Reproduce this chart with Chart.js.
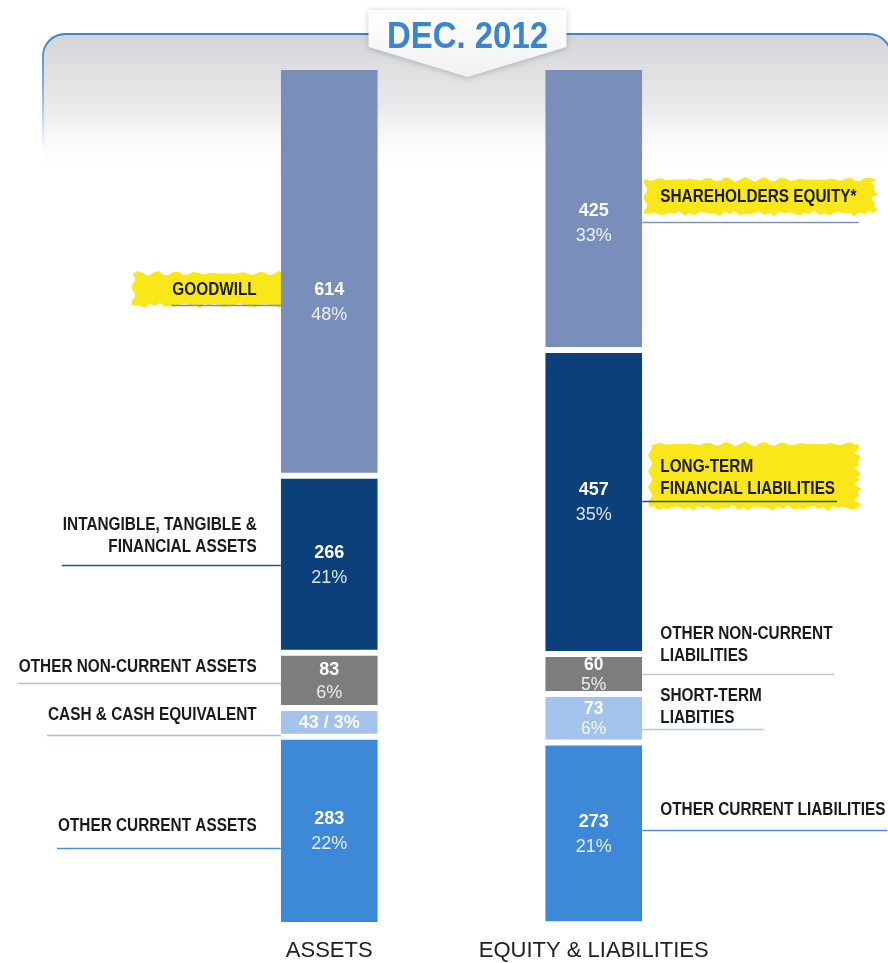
<!DOCTYPE html>
<html>
<head>
<meta charset="utf-8">
<title>Balance sheet - Dec. 2012</title>
<script src="https://cdn.jsdelivr.net/npm/chart.js@4.4.1/dist/chart.umd.min.js"></script>
<style>
    html, body { margin: 0; padding: 0; background: #fff; }
    #wrap { width: 888px; height: 963px; }
</style>
</head>
<body>
<div id="wrap"><canvas id="chart" width="888" height="963"></canvas></div>
<script>
(function () {
    "use strict";

    // data, top segment first
    const categories = ['ASSETS', 'EQUITY & LIABILITIES'];
    const period = 'DEC. 2012';

    const assetNames = ['GOODWILL', 'INTANGIBLE, TANGIBLE &\nFINANCIAL ASSETS', 'OTHER NON-CURRENT ASSETS', 'CASH & CASH EQUIVALENT', 'OTHER CURRENT ASSETS'];
    const assetValues = [614, 266, 83, 43, 283];
    const assetShares = [48, 21, 6, 3, 22];

    const liabilityNames = ['SHAREHOLDERS EQUITY*', 'LONG-TERM\nFINANCIAL LIABILITIES', 'OTHER NON-CURRENT\nLIABILITIES', 'SHORT-TERM\nLIABITIES', 'OTHER CURRENT LIABILITIES'];
    const liabilityValues = [425, 457, 60, 73, 273];
    const liabilityShares = [33, 35, 5, 6, 21];

    const segmentColors = ['#7a8ebb', '#0c407b', '#7d7d7d', '#a3c3ec', '#3d89d7'];
    const leftLineColors = ['#7a8ebb', '#23558f', '#bdbdbd', '#9fc1ea', '#4a8fd8'];
    const rightLineColors = ['#7f92bd', '#1d4f8a', '#c6c6c6', '#a9c8ec', '#4a8fd8'];

    const sans = "'Liberation Sans', Arial, sans-serif";

    // label placement relative to the segment centre (px)
    const leftLayout = [
        { line: 34, text: -15, glow: { l: 39, t: 17, b: 15 } },
        { line: 1, text: -18 },
        { line: 3, text: -16 },
        { line: 13, text: -20 },
        { line: 17, text: -22 }
    ];
    const rightLayout = [
        { line: 14, text: -26, glow: { l: 3, r: 18, t: 17, b: 17 } },
        { line: -1, text: -12, glow: { l: 8, r: 23, t: 23, b: 19 } },
        { line: 0, text: -18 },
        { line: 11, text: -11 },
        { line: -3, text: -21 }
    ];
    const valueShift = [[30, 0, 0, 0, 0], [14, 0, 0, 0, 0]];

    // no narrow face installed, so squeeze the bold one
    const LABEL_FONT = 'bold 18.5px ' + sans;
    const SQUEEZE = 0.83;
    const LINE_GAP = 22;

    function segment(chart, level, side) {
        const bar = chart.getDatasetMeta(level).data[side];
        const p = bar.getProps(['x', 'y', 'base', 'width'], true);
        const top = Math.min(p.y, p.base), bottom = Math.max(p.y, p.base);
        return { left: p.x - p.width / 2, right: p.x + p.width / 2, x: p.x, top: top, bottom: bottom, mid: (top + bottom) / 2 };
    }

    function brush(ctx, x0, y0, x1, y1) {
        ctx.beginPath();
        ctx.moveTo(x0, y0);
        for (let x = x0; x <= x1; x += 5) {
            ctx.lineTo(x, y0 + Math.sin(x * 0.9) * 1.4 + Math.sin(x * 0.31) * 1.2);
        }
        for (let y = y0; y <= y1; y += 3) {
            ctx.lineTo(x1 + Math.sin(y * 1.3) * 2.5 + Math.sin(y * 0.4) * 2, y);
        }
        for (let x = x1; x >= x0; x -= 5) {
            ctx.lineTo(x, y1 + Math.sin(x * 0.7) * 1.8 + Math.sin(x * 0.23) * 1.2);
        }
        for (let y = y1; y >= y0; y -= 3) {
            ctx.lineTo(x0 + Math.sin(y * 1.7) * 2, y);
        }
        ctx.closePath();
        ctx.fill();
    }

    function labelLines(text) {
        return text.split('\n');
    }

    function blockWidth(ctx, lines) {
        ctx.font = LABEL_FONT;
        return SQUEEZE * Math.max.apply(null, lines.map(function (l) { return ctx.measureText(l).width; }));
    }

    function squeezedText(ctx, text, x, y, align) {
        ctx.save();
        ctx.translate(x, y);
        ctx.scale(SQUEEZE, 1);
        ctx.textAlign = align;
        ctx.fillText(text, 0, 0);
        ctx.restore();
    }

    const backdrop = {
        id: 'backdrop',
        beforeDraw(chart) {
            const ctx = chart.ctx;
            const w = chart.width;
            ctx.save();
            ctx.fillStyle = '#fff';
            ctx.fillRect(0, 0, w, chart.height);

            // rounded panel fading to white
            const x0 = 43, y0 = 34, r = 22, x1 = 891, fade = 180;
            const fill = ctx.createLinearGradient(0, y0, 0, fade);
            fill.addColorStop(0, '#d4d5d8');
            fill.addColorStop(0.5, '#eaeaec');
            fill.addColorStop(1, 'rgba(255,255,255,0)');
            ctx.fillStyle = fill;
            ctx.beginPath();
            ctx.moveTo(x0, fade);
            ctx.lineTo(x0, y0 + r);
            ctx.arcTo(x0, y0, x0 + r, y0, r);
            ctx.lineTo(x1 - r, y0);
            ctx.arcTo(x1, y0, x1, y0 + r, r);
            ctx.lineTo(x1, fade);
            ctx.closePath();
            ctx.fill();

            const edge = ctx.createLinearGradient(0, y0, 0, 150);
            edge.addColorStop(0, 'rgba(60,132,210,1)');
            edge.addColorStop(0.45, 'rgba(60,132,210,0.6)');
            edge.addColorStop(1, 'rgba(60,132,210,0)');
            ctx.strokeStyle = edge;
            ctx.lineWidth = 2;
            ctx.beginPath();
            ctx.moveTo(x0, 150);
            ctx.lineTo(x0, y0 + r);
            ctx.arcTo(x0, y0, x0 + r, y0, r);
            ctx.lineTo(x1 - r, y0);
            ctx.arcTo(x1, y0, x1, y0 + r, r);
            ctx.lineTo(x1, 150);
            ctx.stroke();

            // date tab
            const cx = (chart.scales.x.getPixelForValue(0) + chart.scales.x.getPixelForValue(1)) / 2 + 6;
            ctx.save();
            ctx.shadowColor = 'rgba(0,0,0,0.22)';
            ctx.shadowBlur = 6;
            ctx.shadowOffsetY = 1;
            const tab = ctx.createLinearGradient(0, 10, 0, 77);
            tab.addColorStop(0, '#ffffff');
            tab.addColorStop(1, '#f1f1f3');
            ctx.fillStyle = tab;
            ctx.beginPath();
            ctx.moveTo(cx - 99, 10);
            ctx.lineTo(cx + 99, 10);
            ctx.lineTo(cx + 99, 47);
            ctx.lineTo(cx, 77);
            ctx.lineTo(cx - 99, 47);
            ctx.closePath();
            ctx.fill();
            ctx.restore();

            ctx.font = 'bold 36px ' + sans;
            const tw = ctx.measureText(period).width;
            ctx.fillStyle = '#3a85d0';
            ctx.textAlign = 'center';
            ctx.textBaseline = 'alphabetic';
            ctx.save();
            ctx.translate(cx, 48);
            ctx.scale(161 / tw, 1);
            ctx.fillText(period, 0, 0);
            ctx.restore();
            ctx.restore();
        },
        beforeDatasetsDraw(chart) {
            const ctx = chart.ctx;
            ctx.save();
            ctx.fillStyle = '#f9e71a';
            ctx.lineWidth = 1.5;

            // left side: assets
            assetNames.forEach(function (name, i) {
                const s = segment(chart, i, 0);
                const lay = leftLayout[i];
                const lines = labelLines(name);
                const bw = blockWidth(ctx, lines);
                const textRight = s.left - 24;
                const lastMid = s.mid + lay.line + lay.text;
                const firstMid = lastMid - (lines.length - 1) * LINE_GAP;
                if (lay.glow) {
                    brush(ctx, textRight - bw - lay.glow.l, firstMid - lay.glow.t, s.left + 4, lastMid + lay.glow.b);
                }
                const ly = Math.round(s.mid + lay.line) + 0.5;
                ctx.strokeStyle = leftLineColors[i];
                ctx.beginPath();
                ctx.moveTo(textRight - bw - 1, ly);
                ctx.lineTo(s.left, ly);
                ctx.stroke();
            });

            // right side: equity & liabilities
            liabilityNames.forEach(function (name, i) {
                const s = segment(chart, i, 1);
                const lay = rightLayout[i];
                const lines = labelLines(name);
                const bw = blockWidth(ctx, lines);
                const textLeft = s.right + 18;
                const lastMid = s.mid + lay.line + lay.text;
                const firstMid = lastMid - (lines.length - 1) * LINE_GAP;
                if (lay.glow) {
                    brush(ctx, s.right + lay.glow.l, firstMid - lay.glow.t, textLeft + bw + lay.glow.r, lastMid + lay.glow.b);
                }
                const ly = Math.round(s.mid + lay.line) + 0.5;
                ctx.strokeStyle = rightLineColors[i];
                ctx.beginPath();
                ctx.moveTo(s.right, ly);
                ctx.lineTo(textLeft + bw + 2, ly);
                ctx.stroke();
            });
            ctx.restore();
        },
        afterDatasetsDraw(chart) {
            const ctx = chart.ctx;
            ctx.save();
            ctx.textBaseline = 'middle';

            // side labels
            ctx.font = LABEL_FONT;
            ctx.fillStyle = '#1b1b1b';
            assetNames.forEach(function (name, i) {
                const s = segment(chart, i, 0);
                const lay = leftLayout[i];
                const lines = labelLines(name);
                const lastMid = s.mid + lay.line + lay.text;
                lines.forEach(function (l, j) {
                    squeezedText(ctx, l, s.left - 24, lastMid - (lines.length - 1 - j) * LINE_GAP, 'right');
                });
            });
            liabilityNames.forEach(function (name, i) {
                const s = segment(chart, i, 1);
                const lay = rightLayout[i];
                const lines = labelLines(name);
                const lastMid = s.mid + lay.line + lay.text;
                lines.forEach(function (l, j) {
                    squeezedText(ctx, l, s.right + 18, lastMid - (lines.length - 1 - j) * LINE_GAP, 'left');
                });
            });

            // values inside the bars
            ctx.textAlign = 'center';
            [[assetValues, assetShares], [liabilityValues, liabilityShares]].forEach(function (pair, side) {
                pair[0].forEach(function (v, i) {
                    const s = segment(chart, i, side);
                    const h = s.bottom - s.top;
                    const mid = s.mid + valueShift[side][i];
                    if (h < 30) {
                        ctx.font = 'bold 18px ' + sans;
                        ctx.fillStyle = 'rgba(255,255,255,0.92)';
                        ctx.fillText(v + ' / ' + pair[1][i] + '%', s.x, mid + 1);
                        return;
                    }
                    const gap = h < 50 ? 20 : (h < 70 ? 23 : 25);
                    const size = h < 50 ? 17.5 : 18;
                    ctx.font = 'bold ' + size + 'px ' + sans;
                    ctx.fillStyle = '#ffffff';
                    ctx.fillText(String(v), s.x, mid - gap / 2 + 1);
                    ctx.font = size + 'px ' + sans;
                    ctx.fillStyle = 'rgba(255,255,255,0.86)';
                    ctx.fillText(pair[1][i] + '%', s.x, mid + gap / 2 + 1);
                });
            });
            ctx.restore();
        }
    };

    const datasets = assetValues.map(function (v, i) {
        return {
            label: assetNames[i],
            data: [assetValues[i], liabilityValues[i]],
            backgroundColor: segmentColors[i],
            borderColor: 'rgba(0,0,0,0)',
            borderWidth: { top: 3, bottom: 3, left: 0, right: 0 },
            borderSkipped: false,
            barPercentage: 0.3667,
            categoryPercentage: 1
        };
    });

    new Chart(document.getElementById('chart').getContext('2d'), {
        type: 'bar',
        data: {
            labels: categories,
            datasets: datasets
        },
        options: {
            responsive: false,
            animation: false,
            layout: {
                padding: { left: 197, right: 162, top: 67, bottom: 0 }
            },
            plugins: {
                legend: { display: false },
                tooltip: { enabled: false }
            },
            scales: {
                x: {
                    stacked: true,
                    grid: { display: false, drawTicks: false },
                    border: { display: false },
                    ticks: {
                        color: '#222',
                        padding: 13,
                        font: { family: sans, size: 22 }
                    },
                    afterFit(scale) {
                        scale.height = 38;
                    }
                },
                y: {
                    stacked: true,
                    reverse: true,
                    min: 0,
                    max: 1289,
                    display: false
                }
            }
        },
        plugins: [backdrop]
    });
})();
</script>
</body>
</html>
